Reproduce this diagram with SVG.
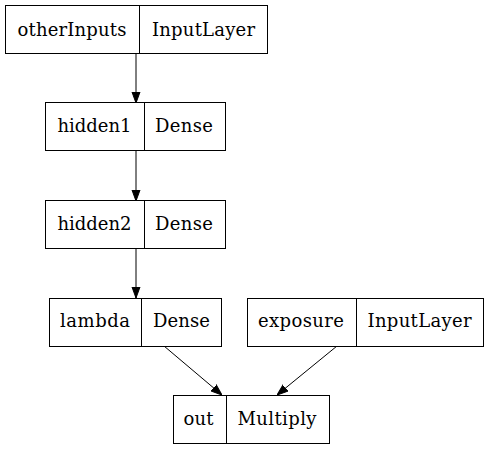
<svg xmlns="http://www.w3.org/2000/svg" width="489" height="449" viewBox="0 0 489 449">
<style>
rect{fill:#fff;stroke:#000;stroke-width:1}
.d{stroke:#000;stroke-width:1}
text{font-family:'DejaVu Serif',serif;font-size:18px;text-anchor:middle;fill:#000}
.e{stroke:#000;stroke-width:1;fill:none}
</style>
<defs>
<marker id="a" markerWidth="11" markerHeight="11" refX="11" refY="5.5" orient="auto" markerUnits="userSpaceOnUse">
<path d="M0,1.5 L11,5.5 L0,9.5 Z" fill="#000" stroke="#000"/>
</marker>
</defs>
<rect width="489" height="449" style="stroke:none"/>
<g id="connectors">
<path class="e" d="M136,53 V103" marker-end="url(#a)"/>
<path class="e" d="M136,150 V201" marker-end="url(#a)"/>
<path class="e" d="M136,248 V298" marker-end="url(#a)"/>
<path class="e" d="M164,346 L222,395" marker-end="url(#a)"/>
<path class="e" d="M337,346 L277,395" marker-end="url(#a)"/>
</g>
<g id="otherInputs">
<rect x="5.5" y="5.5" width="262" height="48"/>
<line class="d" x1="139.5" y1="5.5" x2="139.5" y2="53.5"/>
<text x="72" y="35.5" textLength="109">otherInputs</text>
<text x="203.5" y="35.5" textLength="103">InputLayer</text>
</g>
<g id="hidden1">
<rect x="45.5" y="102.5" width="180" height="48"/>
<line class="d" x1="144.5" y1="102.5" x2="144.5" y2="150.5"/>
<text x="94.5" y="132" textLength="74">hidden1</text>
<text x="184" y="132" textLength="58">Dense</text>
</g>
<g id="hidden2">
<rect x="45.5" y="200.5" width="180" height="48"/>
<line class="d" x1="144.5" y1="200.5" x2="144.5" y2="248.5"/>
<text x="94.5" y="230" textLength="74">hidden2</text>
<text x="184" y="230" textLength="58">Dense</text>
</g>
<g id="lambda">
<rect x="49.5" y="298.5" width="172" height="48"/>
<line class="d" x1="141.5" y1="298.5" x2="141.5" y2="346.5"/>
<text x="95" y="327" textLength="70">lambda</text>
<text x="181.5" y="327" textLength="57">Dense</text>
</g>
<g id="exposure">
<rect x="247.5" y="298.5" width="236" height="48"/>
<line class="d" x1="356.5" y1="298.5" x2="356.5" y2="346.5"/>
<text x="301" y="327" textLength="86">exposure</text>
<text x="419.5" y="327" textLength="104">InputLayer</text>
</g>
<g id="out">
<rect x="173.5" y="395.5" width="156" height="48"/>
<line class="d" x1="226.5" y1="395.5" x2="226.5" y2="443.5"/>
<text x="198.5" y="424.5" textLength="30">out</text>
<text x="277" y="424.5" textLength="79">Multiply</text>
</g>
</svg>
